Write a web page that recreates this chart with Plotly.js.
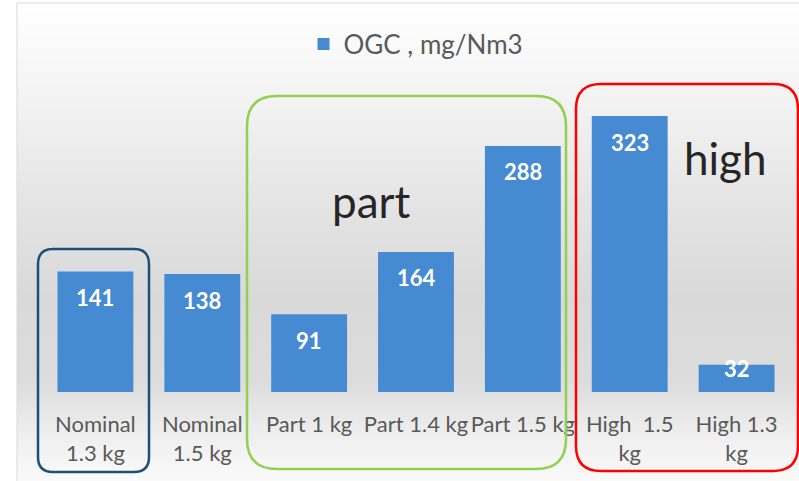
<!DOCTYPE html>
<html><head><meta charset="utf-8">
<script src="https://cdn.plot.ly/plotly-3.0.1.min.js"></script>
<style>html,body{margin:0;padding:0;background:#fff}#chart{width:799px;height:481px}</style>
</head><body><div id="chart"></div>
<script>
const categories = ["Nominal<br>1.3 kg","Nominal<br>1.5 kg","Part 1 kg","Part 1.4 kg","Part 1.5 kg","High\u00a0\u00a01.5<br>kg","High 1.3<br>kg"];
const seriesName = "OGC , mg/Nm3";
const ogcValues = [141,138,91,164,288,323,32];
const groupLabels = ["part","high"];

const W=799,H=481,L=42,R=9,T=93,B=89;
const PW=W-L-R, PH=H-T-B;
const YMAX=350;
const px2x = p => (p-L)/PW;
const px2y = p => (H-B-p)/PH;

function roundRect(x0,y0,x1,y1,r){
  const X=px2x, Y=px2y;
  return `M${X(x0+r)},${Y(y0)} L${X(x1-r)},${Y(y0)} Q${X(x1)},${Y(y0)} ${X(x1)},${Y(y0+r)} ` +
         `L${X(x1)},${Y(y1-r)} Q${X(x1)},${Y(y1)} ${X(x1-r)},${Y(y1)} ` +
         `L${X(x0+r)},${Y(y1)} Q${X(x0)},${Y(y1)} ${X(x0)},${Y(y1-r)} ` +
         `L${X(x0)},${Y(y0+r)} Q${X(x0)},${Y(y0)} ${X(x0+r)},${Y(y0)} Z`;
}

const svgBg = "<svg xmlns='http://www.w3.org/2000/svg' width='100' height='100' preserveAspectRatio='none'><defs><linearGradient id='g' x1='0' y1='0' x2='0' y2='1'>" +
  "<stop offset='0' stop-color='#ffffff'/><stop offset='0.2' stop-color='#f3f3f3'/><stop offset='0.41' stop-color='#e5e5e5'/>" +
  "<stop offset='0.62' stop-color='#d9d9d9'/><stop offset='0.79' stop-color='#dcdcdc'/><stop offset='0.89' stop-color='#ededed'/>" +
  "<stop offset='1' stop-color='#fafafa'/></linearGradient></defs><rect width='100' height='100' fill='url(#g)'/></svg>";
const bgSrc = "data:image/svg+xml;charset=utf-8," + encodeURIComponent(svgBg);

const valueAnn = ogcValues.map((v,i)=>{
  const barPx = v*PH/YMAX;
  const off = Math.min(26, Math.max(4, barPx-23));
  return {x:categories[i], y:v, xref:'x', yref:'y', text:String(v), showarrow:false,
    yanchor:'middle', yshift:-off, font:{family:'Lato', size:22, color:'#ffffff', weight:'bold'}};
});

const data = [{
  type:'bar', x:categories, y:ogcValues, name:seriesName, showlegend:true,
  marker:{color:'#468ad2'}, hoverinfo:'none'
}];

const layout = {
  width:W, height:H, margin:{l:L,r:R,t:T,b:B},
  paper_bgcolor:'#ffffff', plot_bgcolor:'rgba(0,0,0,0)',
  font:{family:'Lato', color:'#595959'},
  bargap:0.29,
  xaxis:{showgrid:false, zeroline:false, showline:false, ticks:'', tickfont:{family:'Lato', size:22, color:'#595959'}, ticklabelstandoff:17},
  yaxis:{visible:false, range:[0,YMAX], fixedrange:true},
  showlegend:true,
  legend:{orientation:'h', x:0.5, xanchor:'center', y:px2y(44), yanchor:'middle', font:{family:'Lato', size:26, color:'#595959'}, bgcolor:'rgba(0,0,0,0)'},
  images:[{source:bgSrc, xref:'paper', yref:'paper', x:px2x(17), y:px2y(3), sizex:(W-17)/PW, sizey:(H-3)/PH, sizing:'stretch', xanchor:'left', yanchor:'top', layer:'below'}],
  shapes:[
    {type:'rect', xref:'paper', yref:'paper', x0:px2x(17), x1:px2x(830), y0:px2y(3), y1:px2y(500), line:{color:'#d9d9d9', width:1}, fillcolor:'rgba(0,0,0,0)', layer:'below'},
    {type:'path', xref:'paper', yref:'paper', path:roundRect(38,249,149,472,15), line:{color:'#1f4e79', width:2.5}},
    {type:'path', xref:'paper', yref:'paper', path:roundRect(247,96,566,469,30), line:{color:'#92d050', width:2.5}},
    {type:'path', xref:'paper', yref:'paper', path:roundRect(576,84,798,471,25), line:{color:'#ff0000', width:2.5}}
  ],
  annotations: valueAnn.concat([
    {xref:'paper', yref:'paper', x:px2x(371), y:px2y(201), text:groupLabels[0], showarrow:false, xanchor:'center', yanchor:'middle', font:{family:'Lato', size:44, color:'#262626'}},
    {xref:'paper', yref:'paper', x:px2x(725), y:px2y(158), text:groupLabels[1], showarrow:false, xanchor:'center', yanchor:'middle', font:{family:'Lato', size:44, color:'#262626'}}
  ])
};

Plotly.newPlot('chart', data, layout, {displayModeBar:false, staticPlot:true});
</script>
</body></html>
